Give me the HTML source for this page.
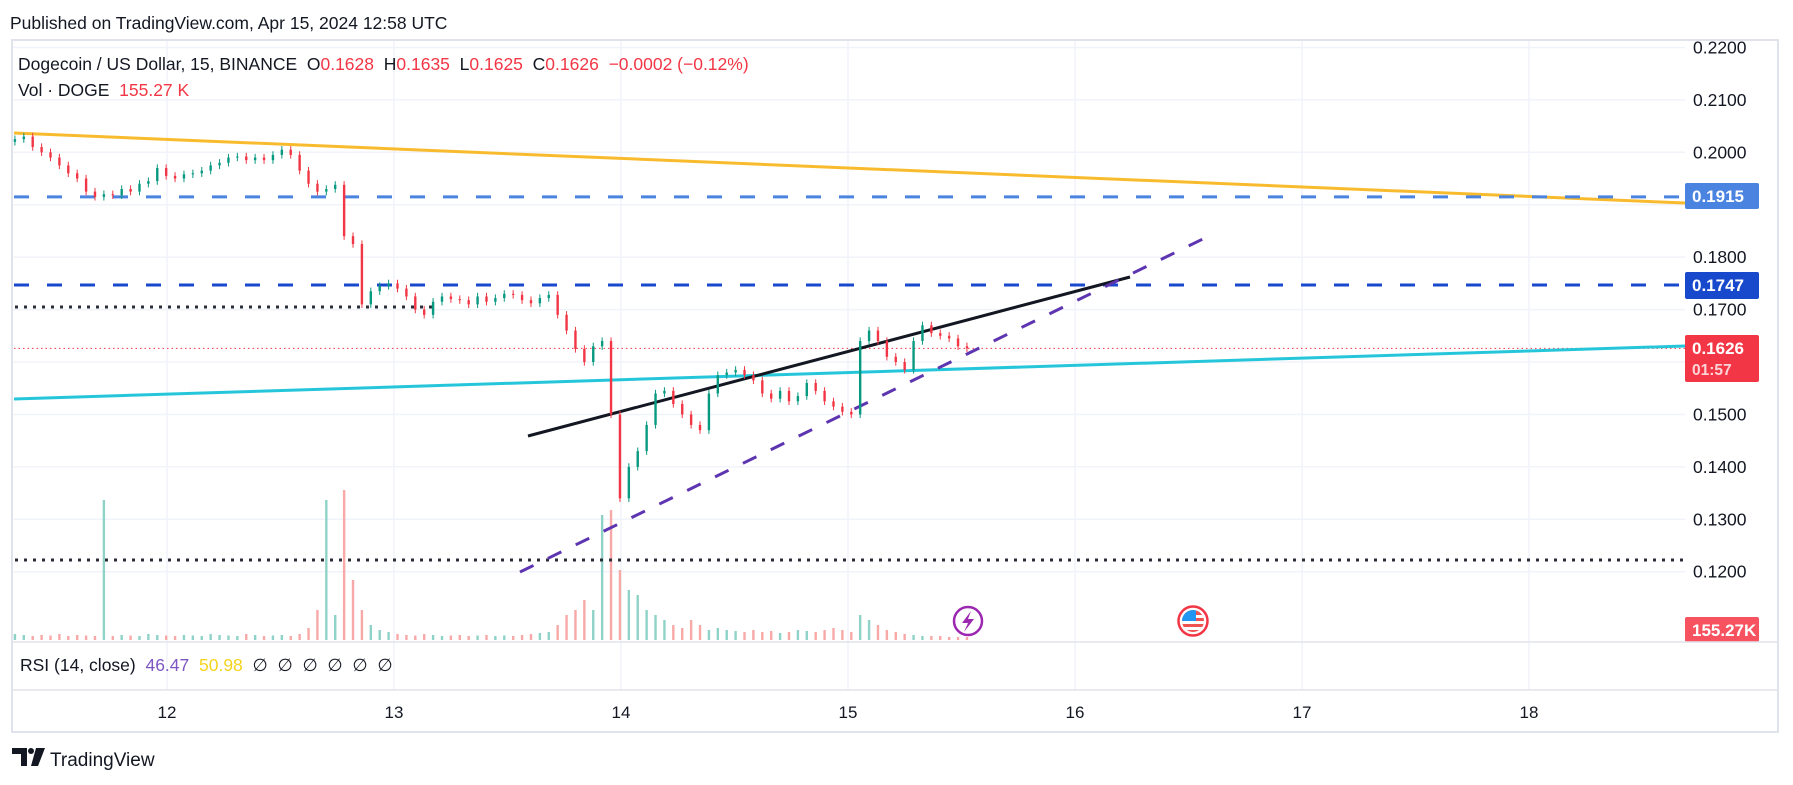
<!DOCTYPE html>
<html><head><meta charset="utf-8"><style>
html,body{margin:0;padding:0;background:#fff;}
svg{display:block;font-family:"Liberation Sans",sans-serif;}
text{white-space:pre;}
</style></head><body>
<svg id="c" width="1793" height="785" viewBox="0 0 1793 785" xmlns="http://www.w3.org/2000/svg">
<text x="10" y="29" font-size="17.5" fill="#131722">Published on TradingView.com, Apr 15, 2024 12:58 UTC</text>
<rect x="12" y="40" width="1766" height="692" fill="none" stroke="#e0e3eb" stroke-width="2"/>
<g id="grid"></g>
<g id="vol"></g>
<g id="lines"></g>
<g id="candles"></g>
<g id="axis"></g>
<g id="xaxis"></g>
<line x1="13" y1="642" x2="1777" y2="642" stroke="#e0e3eb" stroke-width="1.5"/>
<line x1="13" y1="690" x2="1777" y2="690" stroke="#e0e3eb" stroke-width="1.5"/>
<text x="18" y="70" font-size="17.5" fill="#131722">Dogecoin / US Dollar, 15, BINANCE  O<tspan fill="#f23645">0.1628</tspan>  H<tspan fill="#f23645">0.1635</tspan>  L<tspan fill="#f23645">0.1625</tspan>  C<tspan fill="#f23645">0.1626</tspan>  <tspan fill="#f23645">−0.0002 (−0.12%)</tspan></text>
<text x="18" y="96" font-size="17.5" fill="#131722">Vol · DOGE  <tspan fill="#f23645">155.27 K</tspan></text>
<text x="20" y="671" font-size="17.5" fill="#131722">RSI (14, close)  <tspan fill="#7e57c2">46.47</tspan>  <tspan fill="#f5d31c">50.98</tspan>  ∅  ∅  ∅  ∅  ∅  ∅</text>
<g><circle cx="968" cy="621" r="14" fill="#fff" stroke="#9c27b0" stroke-width="2.5"/><path d="M971 611 L962 623 L968 623 L964 632 L974 619 L968 619 Z" fill="#9c27b0"/></g>
<g><circle cx="1193" cy="621" r="14.5" fill="#fff" stroke="#f23645" stroke-width="2.5"/><clipPath id="fc"><circle cx="1193" cy="621" r="11"/></clipPath><g clip-path="url(#fc)"><rect x="1182" y="610" width="22" height="22" fill="#ef5350"/><rect x="1182" y="615" width="22" height="3" fill="#fff"/><rect x="1182" y="621" width="22" height="3" fill="#fff"/><rect x="1182" y="627" width="22" height="3" fill="#fff"/><rect x="1182" y="610" width="14" height="11" fill="#2196f3"/></g></g>
<g><path d="M12 748 H27 V766 H21 V754 H12 Z" fill="#131722"/><circle cx="31" cy="751" r="3" fill="#131722"/><path d="M36 748 H45 L38 766 H31 Z" fill="#131722"/><text x="50" y="766" font-size="19" fill="#131722">TradingView</text></g>
<script>
const closes=[0.2025,0.2030,0.2010,0.2000,0.1990,0.1975,0.1960,0.1950,0.1925,0.1915,0.1920,0.1918,0.1930,0.1925,0.1940,0.1945,0.1970,0.1955,0.1950,0.1958,0.1960,0.1965,0.1975,0.1980,0.1990,0.1992,0.1985,0.1990,0.1985,0.1995,0.2005,0.1995,0.1965,0.1940,0.1925,0.1930,0.1938,0.1840,0.1825,0.1710,0.1735,0.1745,0.1750,0.1740,0.1725,0.1700,0.1690,0.1715,0.1725,0.1720,0.1718,0.1710,0.1725,0.1715,0.1722,0.1730,0.1728,0.1718,0.1712,0.1722,0.1728,0.1690,0.1660,0.1625,0.1600,0.1630,0.1640,0.1500,0.1340,0.1400,0.1430,0.1480,0.1540,0.1545,0.1520,0.1500,0.1480,0.1470,0.1540,0.1575,0.1580,0.1585,0.1575,0.1565,0.1540,0.1530,0.1545,0.1525,0.1535,0.1560,0.1545,0.1525,0.1515,0.1505,0.1500,0.1640,0.1660,0.1640,0.1610,0.1600,0.1585,0.1640,0.1670,0.1655,0.1650,0.1645,0.1630,0.1626];
const volumes=[60,50,40,50,45,60,40,50,45,40,1400,40,50,45,40,60,50,45,40,50,45,40,60,50,45,40,60,50,40,45,50,40,60,120,300,1400,250,1500,600,300,150,100,80,60,50,45,60,50,40,45,50,40,45,50,40,45,40,50,60,70,80,150,250,300,400,300,1250,1300,700,500,450,300,250,200,150,120,200,150,100,120,100,90,80,100,80,90,70,80,100,90,80,100,120,100,80,250,200,150,100,80,60,50,40,40,40,30,30,30];
const priceTicks=["0.2200","0.2100","0.2000","0.1900","0.1800","0.1700","0.1600","0.1500","0.1400","0.1300","0.1200"];
const dayTicks=["12","13","14","15","16","17","18"];
const startDay=11.33, endDay=15.524;
const NS="http://www.w3.org/2000/svg";
function yP(p){return 152.3+(0.2-p)*5243;}
function xD(d){return 167+(d-12)*227;}
function mk(tag,attrs,parent){const e=document.createElementNS(NS,tag);for(const k in attrs)e.setAttribute(k,attrs[k]);document.getElementById(parent).appendChild(e);return e;}
const PR=1685;
priceTicks.forEach(t=>{const y=yP(parseFloat(t));const g=mk('line',{x1:13,x2:PR,y1:y,y2:y,stroke:'#f0f3fa','stroke-width':1.5},'grid');

});
dayTicks.forEach(t=>{const x=xD(parseFloat(t));const g=mk('line',{x1:x,x2:x,y1:41,y2:690,stroke:'#f0f3fa','stroke-width':1.5},'grid');


const tx=mk('text',{x:x,y:718,'font-size':17,'text-anchor':'middle',fill:'#131722'},'xaxis');tx.textContent=t;

});
const hidden={"0.1900":1,"0.1600":1};
priceTicks.forEach(t=>{if(hidden[t])return;const tx=mk('text',{x:1693,y:yP(parseFloat(t))+6,'font-size':17.5,fill:'#131722'},'axis');tx.textContent=t;

});
function ln(a,name){const e=mk('line',a,'lines');return e;}
ln({x1:14,y1:133,x2:PR,y2:203,stroke:'#f9bb2e','stroke-width':3},'resistance-trendline');
ln({x1:14,y1:yP(0.1915),x2:PR,y2:yP(0.1915),stroke:'#4a84e0','stroke-width':3,'stroke-dasharray':'15 18'},'level-0-1915');
ln({x1:14,y1:yP(0.1747),x2:PR,y2:yP(0.1747),stroke:'#1848cc','stroke-width':3,'stroke-dasharray':'15 18'},'level-0-1747');
ln({x1:15,y1:307,x2:432,y2:307,stroke:'#2a2e39','stroke-width':3,'stroke-dasharray':'3 6'},'dotted-level-upper');
ln({x1:15,y1:560,x2:PR,y2:560,stroke:'#2a2e39','stroke-width':3,'stroke-dasharray':'3 6'},'dotted-level-lower');
ln({x1:14,y1:yP(0.1626),x2:PR,y2:yP(0.1626),stroke:'#f23645','stroke-width':1,'stroke-dasharray':'1.5 3'},'current-price-line');
ln({x1:14,y1:399,x2:PR,y2:346,stroke:'#26c6da','stroke-width':3},'support-trendline');
ln({x1:528,y1:436,x2:1130,y2:277,stroke:'#131722','stroke-width':3},'channel-upper-line');
ln({x1:520,y1:572,x2:1207,y2:237,stroke:'#5e35b1','stroke-width':3,'stroke-dasharray':'15 16'},'channel-lower-line');
const n=closes.length,step=(endDay-startDay)/(n-1);
let prev=0.2020;
closes.forEach((c,i)=>{const x=xD(startDay+i*step);const o=prev;const up=c>=o;const col=up?'#089981':'#f23645';
const hi=Math.max(o,c)+0.0007, lo=Math.min(o,c)-0.0007;
const w=mk('line',{x1:x,x2:x,y1:yP(hi),y2:yP(lo),stroke:col,'stroke-width':1},'candles');


const top=yP(Math.max(o,c)),bh=Math.max(1,Math.abs(yP(o)-yP(c)));
const b=mk('rect',{x:x-1.2,y:top,width:2.4,height:bh,fill:col},'candles');


const vh=volumes[i]*0.1;
const v=mk('rect',{x:x-1.2,y:640-vh,width:2.4,height:vh,fill:up?'#8fd3c8':'#f7a9a7'},'vol');


prev=c;});
function badge(y,h,fill,txt,name,sub){const r=mk('rect',{x:1685,y:y,width:74,height:h,rx:2,fill:fill},'axis');


const t=mk('text',{x:1692,y:y+19,'font-size':17,'font-weight':'bold',fill:'#fff'},'axis');t.textContent=txt;


if(sub){const s=mk('text',{x:1692,y:y+40,'font-size':15.5,'font-weight':'bold',fill:'#fcd4d7'},'axis');s.textContent=sub;

}}
badge(183,26,'#4a84e0','0.1915','badge-0-1915');
badge(272,27,'#1848cc','0.1747','badge-0-1747');
badge(335,47,'#f23645','0.1626','badge-current-price','01:57');
badge(617,25,'#f7525f','155.27K','badge-volume');
</script>
</svg>
</body></html>
